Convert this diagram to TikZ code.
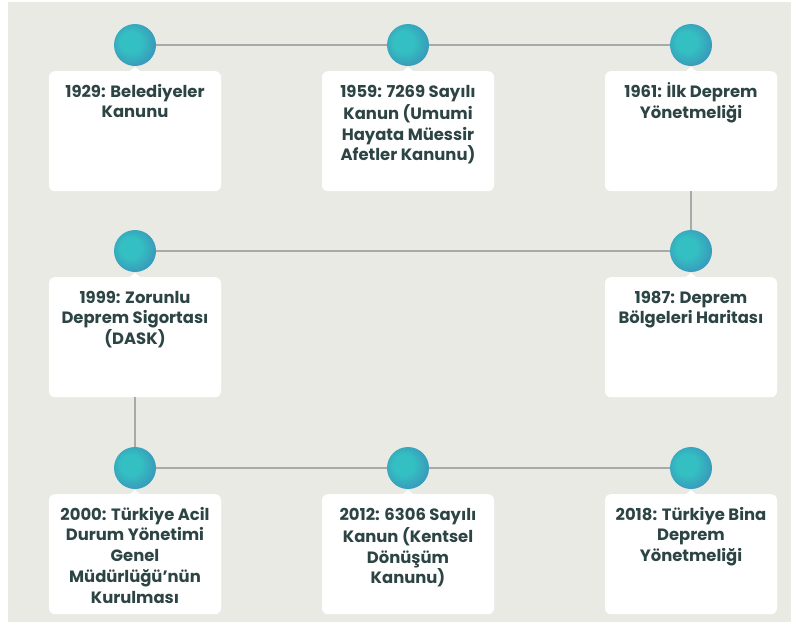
\documentclass[tikz,border=0pt]{standalone}
\usepackage{fontspec}
\setmainfont{Poppins}
\usetikzlibrary{positioning}
\definecolor{panelgray}{HTML}{EAEAE5}
\definecolor{dotteal}{HTML}{34C0C2}
\definecolor{dotblue}{HTML}{3B7EB6}
\definecolor{inkslate}{HTML}{2D4444}
\definecolor{linkgray}{HTML}{A9A9A9}
\pgfdeclareradialshading{dotshade}{\pgfpoint{-7bp}{5bp}}{color(0bp)=(dotteal); color(12bp)=(dotteal); color(40bp)=(dotblue); color(50bp)=(dotblue)}
\tikzset{eventbox/.style={anchor=north, fill=white, rounded corners=6pt, inner sep=0pt, minimum width=172pt, minimum height=120pt}}
\tikzset{eventtext/.style={anchor=north, align=center, inner sep=0pt, text=inkslate, font=\fontsize{16.4}{20.7}\selectfont\bfseries}}
\tikzset{dot/.style={circle, inner sep=0pt, minimum size=42pt, shading=dotshade}}
\tikzset{link/.style={draw=linkgray, line width=1.5pt}}
\newcommand\milestone[4]{
				\node[eventbox] (b#1) at (#2, #3) {};
				\fill[white] ([xshift=-5pt]b#1.north) -- ([yshift=4pt]b#1.north) -- ([xshift=5pt]b#1.north) -- cycle;
				\node[eventtext] (t#1) at ([yshift=-11.5pt]b#1.north) {\strut#4};
				\node[dot] (c#1) at ([yshift=26pt]b#1.north) {};
				}

\begin{document}
\begin{tikzpicture}[x=1pt, y=-1pt]
	\useasboundingbox (0, 0) rectangle (791, 622);
	\fill[panelgray] (8, 2) rectangle (791, 622);

	\milestone{1929}{135}{71}{1929: Belediyeler\\Kanunu}
	\milestone{1959}{408}{71}{1959: 7269 Sayılı\\Kanun (Umumi\\Hayata Müessir\\Afetler Kanunu)}
	\milestone{1961}{691}{71}{1961: İlk Deprem\\Yönetmeliği}
	\milestone{1999}{135}{277}{1999: Zorunlu\\Deprem Sigortası\\(DASK)}
	\milestone{1987}{691}{277}{1987: Deprem\\Bölgeleri Haritası}
	\milestone{2000}{135}{494}{2000: Türkiye Acil\\Durum Yönetimi\\Genel\\Müdürlüğü’nün\\Kurulması}
	\milestone{2012}{408}{494}{2012: 6306 Sayılı\\Kanun (Kentsel\\Dönüşüm\\Kanunu)}
	\milestone{2018}{691}{494}{2018: Türkiye Bina\\Deprem\\Yönetmeliği}

	\draw[link] (c1929) -- (c1959) -- (c1961);
	\draw[link] (b1961) -- (c1987);
	\draw[link] (c1987) -- (c1999);
	\draw[link] (b1999) -- (c2000);
	\draw[link] (c2000) -- (c2012) -- (c2018);
\end{tikzpicture}
\end{document}
